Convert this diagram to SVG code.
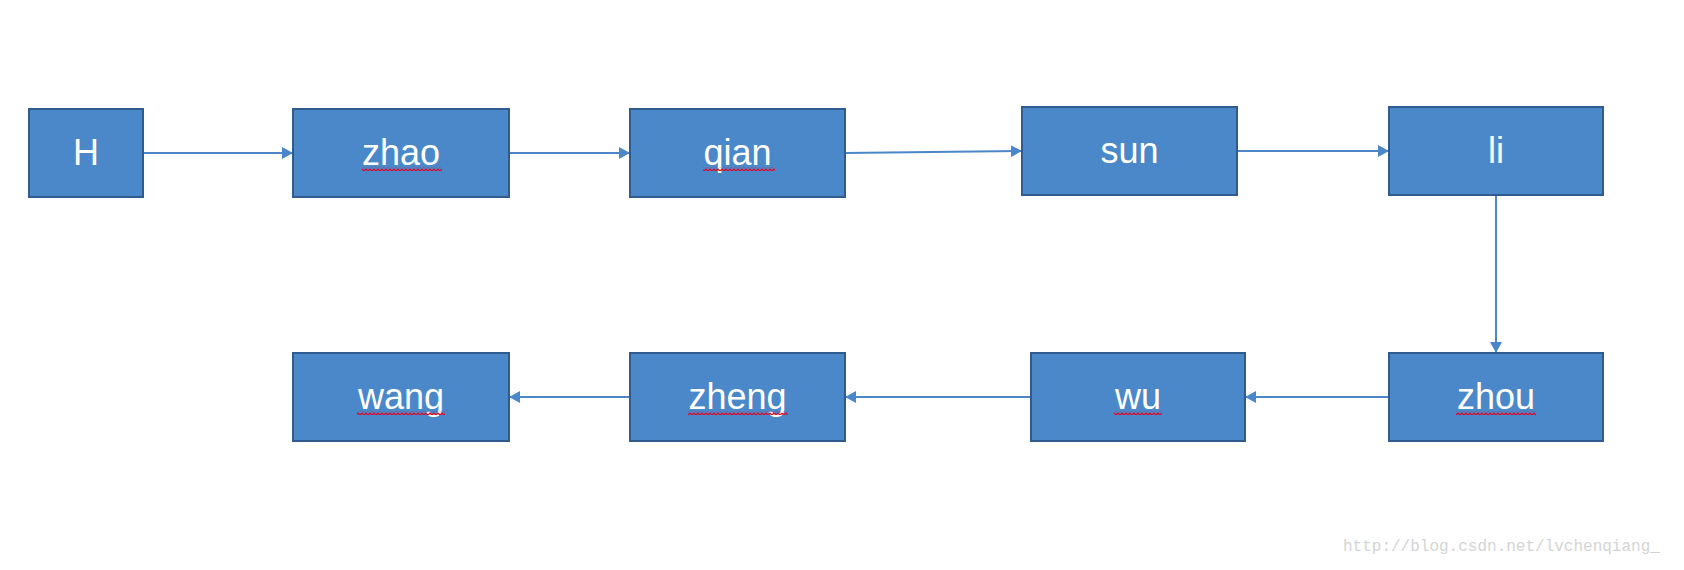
<svg xmlns="http://www.w3.org/2000/svg" width="1684" height="570" viewBox="0 0 1684 570">
  <style>
    .box { fill: #4a88c9; stroke: #2f5b8f; stroke-width: 2; }
    .lbl { fill: #ffffff; font-family: "Liberation Sans", Arial, sans-serif; font-size: 36px; text-anchor: middle; }
    .conn { stroke: #4a86c8; stroke-width: 2; fill: none; marker-end: url(#arr); }
    .wm { fill: #d4d4d4; font-family: "Liberation Mono", monospace; font-size: 16px; }
  </style>
  <defs>
    <marker id="arr" markerUnits="userSpaceOnUse" markerWidth="12" markerHeight="12" refX="11" refY="6" orient="auto">
      <path d="M0,0 L11,6 L0,12 z" fill="#4a86c8"/>
    </marker>
    <pattern id="wave" patternUnits="userSpaceOnUse" width="4" height="4">
      <path d="M0,3 L2,1 L4,3" stroke="#e8001c" stroke-width="1.2" fill="none"/>
    </pattern>
  </defs>
  <rect width="1684" height="570" fill="#ffffff"/>

  <g id="connectors">
    <line class="conn" x1="143" y1="153" x2="293" y2="153"/>
    <line class="conn" x1="509" y1="153" x2="630" y2="153"/>
    <line class="conn" x1="845" y1="153" x2="1022" y2="151"/>
    <line class="conn" x1="1237" y1="151" x2="1389" y2="151"/>
    <line class="conn" x1="1496" y1="195" x2="1496" y2="353"/>
    <line class="conn" x1="1389" y1="397" x2="1245" y2="397"/>
    <line class="conn" x1="1031" y1="397" x2="845" y2="397"/>
    <line class="conn" x1="630" y1="397" x2="509" y2="397"/>
  </g>

  <g id="node-H">
    <rect class="box" x="29" y="109" width="114" height="88"/>
    <text class="lbl" x="86" y="165">H</text>
  </g>
  <g id="node-zhao">
    <rect class="box" x="293" y="109" width="216" height="88"/>
    <text class="lbl" x="401" y="165">zhao</text>
    <rect x="362" y="167" width="80" height="4" fill="url(#wave)"/>
  </g>
  <g id="node-qian">
    <rect class="box" x="630" y="109" width="215" height="88"/>
    <text class="lbl" x="737.5" y="165">qian</text>
    <rect x="703" y="167" width="72" height="4" fill="url(#wave)"/>
  </g>
  <g id="node-sun">
    <rect class="box" x="1022" y="107" width="215" height="88"/>
    <text class="lbl" x="1129.5" y="163">sun</text>
  </g>
  <g id="node-li">
    <rect class="box" x="1389" y="107" width="214" height="88"/>
    <text class="lbl" x="1496" y="163">li</text>
  </g>
  <g id="node-zhou">
    <rect class="box" x="1389" y="353" width="214" height="88"/>
    <text class="lbl" x="1496" y="409">zhou</text>
    <rect x="1456" y="411" width="80" height="4" fill="url(#wave)"/>
  </g>
  <g id="node-wu">
    <rect class="box" x="1031" y="353" width="214" height="88"/>
    <text class="lbl" x="1138" y="409">wu</text>
    <rect x="1114" y="411" width="48" height="4" fill="url(#wave)"/>
  </g>
  <g id="node-zheng">
    <rect class="box" x="630" y="353" width="215" height="88"/>
    <text class="lbl" x="737.5" y="409">zheng</text>
    <rect x="688" y="411" width="100" height="4" fill="url(#wave)"/>
  </g>
  <g id="node-wang">
    <rect class="box" x="293" y="353" width="216" height="88"/>
    <text class="lbl" x="401" y="409">wang</text>
    <rect x="357" y="411" width="88" height="4" fill="url(#wave)"/>
  </g>

  <text class="wm" x="1343" y="551">http://blog.csdn.net/lvchenqiang_</text>
</svg>
